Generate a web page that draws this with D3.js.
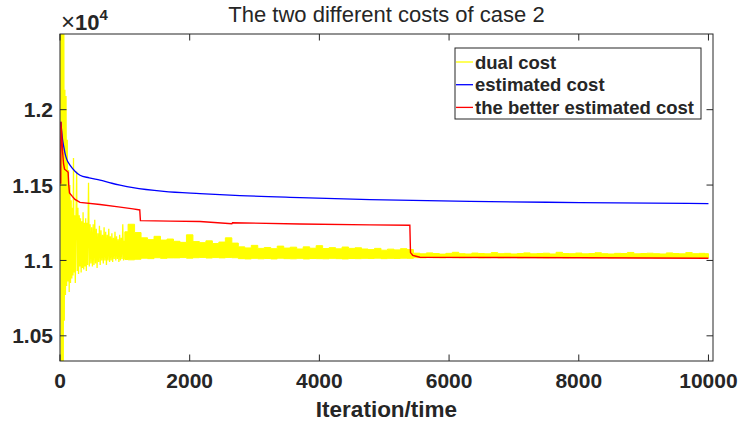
<!DOCTYPE html>
<html>
<head>
<meta charset="utf-8">
<script src="https://cdn.jsdelivr.net/npm/d3@7"></script>
<style>
  body { margin: 0; background: #fff; }
  text { font-family: "Liberation Sans", Arial, sans-serif; fill: #262626; }
</style>
</head>
<body>
<div id="chart"></div>
<script>
'use strict';

// dual cost, first iterations (big oscillations)
var dualIter = [10, 18, 26, 34, 42, 50, 58, 66, 75, 84, 93, 102, 112, 122, 132, 142, 152, 162, 172, 182,
    192, 200, 208, 216, 226, 236, 246, 257, 266, 276, 286, 296, 306, 316, 326, 336, 346, 356, 366, 376,
    386, 396, 406, 416, 426, 440, 452, 464, 476, 488, 500, 512, 524, 536, 548, 560, 572, 584, 596, 608,
    620, 632, 644, 656, 668, 680, 692, 704, 716, 728, 740, 752, 764, 776, 788, 800, 812, 824, 836, 848,
    860, 872, 884, 896, 908, 920, 932, 944, 956, 968, 980, 992, 1004];
var dualCost = [13000, 10000, 13000, 10000, 13000, 10200, 12800, 10600, 12133, 10770, 12090, 10830, 11800, 10860, 11600, 10790, 11500, 10850, 11400, 10880,
    11350, 10900, 11680, 10920, 11300, 10850, 11280, 11590, 10930, 11350, 10910, 11300, 10960, 11280, 10920, 11260, 10950, 11320, 10940, 11250,
    10960, 11280, 10930, 11250, 10970, 11515, 10960, 11240, 10980, 11220, 10960, 11240, 10970, 11270, 10980, 11210, 10950, 11180, 10990, 11230,
    10970, 11200, 11000, 11170, 10980, 11220, 11000, 11190, 10970, 11170, 11000, 11210, 10990, 11160, 11000, 11180, 10990, 11150, 11010, 11190,
    11000, 11160, 11010, 11140, 10990, 11170, 11000, 11150, 11010, 11240, 11000, 11130, 11010];

// dual cost after iteration 1000: upper and lower edge of the noisy band, every 100 iterations
var bandIter = d3.range(1000, 10001, 100);
var bandHigh = [11190, 11240, 11185,
    11150, 11138, 11160, 11135, 11142,
    11127, 11120, 11170, 11125, 11118, 11130, 11112, 11122, 11150, 11115,
    11090, 11083, 11100, 11080, 11086, 11078, 11095, 11082, 11088, 11076, 11090, 11081, 11098, 11079, 11085, 11077, 11089, 11080, 11084, 11076,
    11072, 11080, 11068, 11075, 11070, 11078, 11072,
    11048, 11044, 11050, 11046, 11042, 11047, 11054, 11045, 11043, 11049, 11046, 11044, 11052, 11045, 11047, 11043, 11046, 11050, 11044, 11046,
    11048, 11043, 11054, 11046, 11045, 11049, 11044, 11046, 11051, 11045, 11043, 11047, 11046, 11053, 11044, 11046, 11048, 11045, 11043, 11050,
    11046, 11044, 11052, 11045, 11047, 11045];
var bandLow = [11006, 11004, 11008,
    11015, 11012, 11018, 11014, 11017,
    11017, 11019, 11015, 11018, 11020, 11016, 11019, 11017, 11020, 11018,
    11012, 11010, 11014, 11011, 11013, 11010, 11015, 11012, 11011, 11014, 11010, 11013, 11012, 11011, 11014, 11012, 11010, 11013, 11012, 11014,
    11013, 11015, 11012, 11014, 11013, 11015, 11014,
    11018, 11017, 11019, 11018, 11017, 11019, 11018, 11017, 11018, 11019, 11017, 11018, 11019, 11017, 11018, 11019, 11017, 11018, 11019, 11018,
    11017, 11018, 11019, 11017, 11018, 11019, 11018, 11017, 11018, 11019, 11017, 11018, 11019, 11018, 11017, 11018, 11019, 11017, 11018, 11019,
    11018, 11017, 11019, 11018, 11017, 11018];

// estimated cost
var estIter = [15, 25, 40, 60, 77, 103, 154, 231, 308, 450, 617, 800, 925, 1126, 1600, 2159, 2776, 3701, 4780, 6322, 8018, 10000];
var estCost = [11920, 11860, 11800, 11750, 11712, 11672, 11632, 11592, 11565, 11548, 11532, 11512, 11500, 11483, 11458, 11443, 11430, 11417, 11404, 11392, 11384, 11377];

// the better estimated cost
var betterIter = [0, 12, 14, 25, 40, 55, 70, 100, 125, 135, 146, 190, 231, 308, 617, 900, 1126, 1230, 1240,
    1700, 2159, 2650, 2660, 3700, 4780, 5395, 5405, 5440, 5490, 5550, 8000, 10000];
var betterCost = [11513, 11513, 11920, 11840, 11720, 11640, 11605, 11595, 11585, 11500, 11448, 11425, 11405, 11385, 11371, 11355, 11342, 11335, 11264,
    11261, 11258, 11243, 11250, 11242, 11236, 11233, 11052, 11034, 11028, 11021, 11018, 11015];

var xTicks = [0, 2000, 4000, 6000, 8000, 10000];
var yTicks = [10500, 11000, 11500, 12000];
var legendNames = ['dual cost', 'estimated cost', 'the better estimated cost'];
var legendColors = ['#ffff00', '#0000ff', '#ff0000'];

var chart = {};

chart.margins = {top: 34, bottom: 62, left: 60, right: 25};
chart.w = 738;
chart.h = 423;
chart.cw = chart.w - chart.margins.left - chart.margins.right;
chart.ch = chart.h - chart.margins.top - chart.margins.bottom;
chart.axisColor = '#262626';

chart.zip = function(xs, ys) {
    return xs.map(function(d, i) { return [d, ys[i]]; });
};

chart.run = function() {
    var svg = d3.select('#chart').append('svg')
        .attr('width', chart.w)
        .attr('height', chart.h);

    var x = d3.scaleLinear().domain([0, 10070]).range([0, chart.cw]);
    var y = d3.scaleLinear().domain([10333, 12502]).range([chart.ch, 0]);

    svg.append('clipPath').attr('id', 'plotClip')
        .append('rect').attr('width', chart.cw).attr('height', chart.ch);

    var g = svg.append('g')
        .attr('transform', 'translate(' + chart.margins.left + ',' + chart.margins.top + ')');

    var plot = g.append('g').attr('clip-path', 'url(#plotClip)');

    var line = d3.line()
        .x(function(d) { return x(d[0]); })
        .y(function(d) { return y(d[1]); });

    // dual cost: band part
    var band = bandIter.map(function(d, i) { return [d, bandLow[i], bandHigh[i]]; });
    plot.append('path')
        .datum(band)
        .attr('d', d3.area()
            .curve(d3.curveStep)
            .x(function(d) { return x(d[0]); })
            .y0(function(d) { return y(d[1]); })
            .y1(function(d) { return y(d[2]); }))
        .style('fill', '#ffff00')
        .style('stroke', '#ffff00')
        .style('stroke-width', 1);

    // dual cost: early oscillations
    plot.append('path')
        .datum(chart.zip(dualIter, dualCost))
        .attr('d', line)
        .style('fill', 'none')
        .style('stroke', '#ffff00')
        .style('stroke-width', 1.3);

    plot.append('path')
        .datum(chart.zip(estIter, estCost))
        .attr('d', line.curve(d3.curveMonotoneX))
        .style('fill', 'none')
        .style('stroke', '#0000ff')
        .style('stroke-width', 1.3);

    plot.append('path')
        .datum(chart.zip(betterIter, betterCost))
        .attr('d', line.curve(d3.curveLinear))
        .style('fill', 'none')
        .style('stroke', '#ff0000')
        .style('stroke-width', 1.4);

    // box + ticks on all four sides, pointing inward
    var tl = 6.5;
    var axes = g.append('g').style('stroke', chart.axisColor).style('stroke-width', 1);

    axes.append('rect')
        .attr('x', 0).attr('y', 0)
        .attr('width', chart.cw).attr('height', chart.ch)
        .style('fill', 'none');

    xTicks.forEach(function(t) {
        axes.append('line').attr('x1', x(t)).attr('x2', x(t)).attr('y1', chart.ch).attr('y2', chart.ch - tl);
        axes.append('line').attr('x1', x(t)).attr('x2', x(t)).attr('y1', 0).attr('y2', tl);
    });
    yTicks.forEach(function(t) {
        axes.append('line').attr('x1', 0).attr('x2', tl).attr('y1', y(t)).attr('y2', y(t));
        axes.append('line').attr('x1', chart.cw).attr('x2', chart.cw - tl).attr('y1', y(t)).attr('y2', y(t));
    });

    g.selectAll('.xlab')
        .data(xTicks)
        .enter()
        .append('text')
        .attr('x', function(d) { return x(d); })
        .attr('y', chart.ch + 27)
        .attr('text-anchor', 'middle')
        .style('font-size', '21px')
        .style('font-weight', 'bold')
        .text(function(d) { return d; });

    g.selectAll('.ylab')
        .data(yTicks)
        .enter()
        .append('text')
        .attr('x', -7)
        .attr('y', function(d) { return y(d) + 7.5; })
        .attr('text-anchor', 'end')
        .style('font-size', '21px')
        .style('font-weight', 'bold')
        .text(function(d) { return d3.format('')(d / 10000); });

    // exponent
    var ex = svg.append('text')
        .attr('x', 61).attr('y', 30)
        .style('font-size', '22px')
        .style('font-weight', 'bold');
    ex.append('tspan').style('font-weight', 'normal').style('font-size', '24px').text('\u00d7');
    ex.append('tspan').text('10');
    ex.append('tspan').attr('dy', -10).style('font-size', '15px').text('4');

    svg.append('text')
        .attr('x', chart.margins.left + chart.cw / 2)
        .attr('y', 22)
        .attr('text-anchor', 'middle')
        .style('font-size', '22px')
        .text('The two different costs of case 2');

    svg.append('text')
        .attr('x', chart.margins.left + chart.cw / 2)
        .attr('y', 417)
        .attr('text-anchor', 'middle')
        .style('font-size', '22.5px')
        .style('font-weight', 'bold')
        .text('Iteration/time');

    // legend
    var lg = svg.append('g').attr('transform', 'translate(455,48)');
    lg.append('rect')
        .attr('width', 246).attr('height', 71)
        .style('fill', '#fff')
        .style('stroke', chart.axisColor)
        .style('stroke-width', 1);
    legendNames.forEach(function(name, i) {
        var cy = 14 + i * 22.7;
        lg.append('line')
            .attr('x1', 1).attr('x2', 18).attr('y1', cy).attr('y2', cy)
            .style('stroke', legendColors[i])
            .style('stroke-width', 1.3);
        lg.append('text')
            .attr('x', 20).attr('y', cy + 6.5)
            .style('font-size', '18.5px')
            .style('font-weight', 'bold')
            .text(name);
    });
};

chart.run();
</script>
</body>
</html>
